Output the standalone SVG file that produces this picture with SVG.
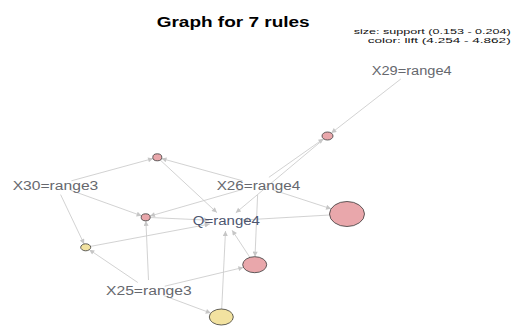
<svg xmlns="http://www.w3.org/2000/svg" width="513" height="327" viewBox="0 0 513 327">
<style>
.e{stroke:#cdcdcd;stroke-width:0.9;fill:none;marker-end:url(#arr)}
.lbl{font-family:"Liberation Sans",Arial,sans-serif;font-size:12px;fill:#66686e}
.q{fill:#4d5670}
.pk{fill:#e9a7ab;stroke:#3a3a3a;stroke-width:0.8}
.yl{fill:#f2e2a0;stroke:#3a3a3a;stroke-width:0.8}
.leg{font-family:"Liberation Sans",Arial,sans-serif;font-size:7.5px;fill:#111}
</style>
<defs>
<marker id="arr" viewBox="0 0 10 10" refX="10" refY="5" markerWidth="7" markerHeight="5" markerUnits="userSpaceOnUse" orient="auto">
<path d="M0,0 L10,5 L0,10 z" fill="#c6c6c6"/>
</marker>
</defs>
<rect width="513" height="327" fill="#fff"/>
<text x="156.7" y="26.5" font-family="'Liberation Sans',Arial,sans-serif" font-size="14" font-weight="bold" fill="#000" textLength="153" lengthAdjust="spacingAndGlyphs">Graph for 7 rules</text>
<text class="leg" x="510.7" y="34" text-anchor="end" textLength="157" lengthAdjust="spacingAndGlyphs">size: support (0.153 - 0.204)</text>
<text class="leg" x="510.7" y="42.5" text-anchor="end" textLength="143" lengthAdjust="spacingAndGlyphs">color: lift (4.254 - 4.862)</text>
<g id="edges">
<line class="e" x1="400.8" y1="79" x2="331.3" y2="133.1"/>
<line class="e" x1="268.9" y1="177.3" x2="323.5" y2="138.8"/>
<line class="e" x1="323.9" y1="139" x2="235.8" y2="212.8"/>
<line class="e" x1="71.4" y1="180.8" x2="153.1" y2="158.5"/>
<line class="e" x1="242.6" y1="180.8" x2="161.5" y2="158.5"/>
<line class="e" x1="160.2" y1="160" x2="216.9" y2="212.6"/>
<line class="e" x1="70.5" y1="190.2" x2="141.6" y2="215.8"/>
<line class="e" x1="242.7" y1="189.4" x2="149.9" y2="216.1"/>
<line class="e" x1="148.5" y1="280" x2="145.9" y2="220.8"/>
<line class="e" x1="150.2" y1="217.5" x2="209" y2="220.2"/>
<line class="e" x1="60.6" y1="194.6" x2="84.1" y2="244"/>
<line class="e" x1="137.8" y1="282.5" x2="89.3" y2="249.7"/>
<line class="e" x1="90.5" y1="246.4" x2="209.8" y2="224"/>
<line class="e" x1="272.8" y1="189.8" x2="331.1" y2="208.8"/>
<line class="e" x1="329.6" y1="215" x2="243" y2="220"/>
<line class="e" x1="257.6" y1="195" x2="255" y2="256.7"/>
<line class="e" x1="164.7" y1="286.2" x2="243.4" y2="267.4"/>
<line class="e" x1="249.9" y1="257.4" x2="232.1" y2="230.3"/>
<line class="e" x1="163.3" y1="295.4" x2="210.8" y2="313.1"/>
<line class="e" x1="221.7" y1="309" x2="225.5" y2="231"/>
</g>
<g id="X29"><text class="lbl" x="371.7" y="75" textLength="80" lengthAdjust="spacingAndGlyphs">X29=range4</text></g>
<g id="X30"><text class="lbl" x="12.7" y="189.5" textLength="85.6" lengthAdjust="spacingAndGlyphs">X30=range3</text></g>
<g id="X26"><text class="lbl" x="216.7" y="189.5" textLength="83.5" lengthAdjust="spacingAndGlyphs">X26=range4</text></g>
<g id="Q"><text class="lbl q" x="192.7" y="224.5" textLength="67.3" lengthAdjust="spacingAndGlyphs">Q=range4</text></g>
<g id="X25"><text class="lbl" x="106" y="295" textLength="85.7" lengthAdjust="spacingAndGlyphs">X25=range3</text></g>
<g id="rule1"><ellipse class="pk" cx="327.5" cy="136" rx="5.5" ry="4"/></g>
<g id="rule2"><ellipse class="pk" cx="157.3" cy="157.3" rx="4.5" ry="3.5"/></g>
<g id="rule3"><ellipse class="pk" cx="145.7" cy="217.3" rx="4.5" ry="3.5"/></g>
<g id="rule4"><ellipse class="yl" cx="85.7" cy="247.3" rx="5" ry="3.5"/></g>
<g id="rule5"><ellipse class="pk" cx="347" cy="214" rx="17.5" ry="12.5"/></g>
<g id="rule6"><ellipse class="pk" cx="254.7" cy="264.7" rx="12" ry="8"/></g>
<g id="rule7"><ellipse class="yl" cx="221.3" cy="317" rx="12" ry="8"/></g>
</svg>
